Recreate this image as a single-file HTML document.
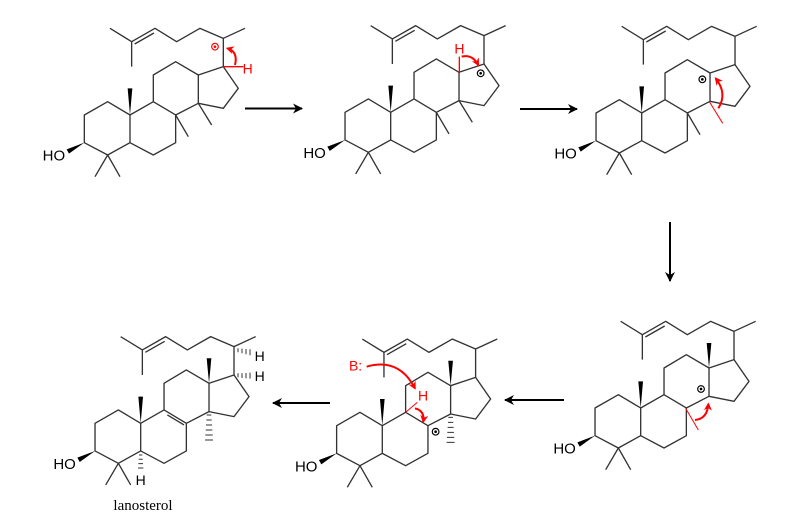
<!DOCTYPE html>
<html><head><meta charset="utf-8"><style>html,body{margin:0;padding:0;background:#fff}svg{display:block}</style></head>
<body>
<svg width="800" height="530" viewBox="0 0 800 530" xmlns="http://www.w3.org/2000/svg">
<defs>
<marker id="ah" viewBox="0 0 10 10" refX="9" refY="5" markerWidth="5" markerHeight="5" orient="auto" markerUnits="strokeWidth"><path d="M0,0 L10,5 L0,10 L3,5 Z" fill="#000"/></marker>
<marker id="rh" viewBox="0 0 10 10" refX="8" refY="5" markerWidth="4" markerHeight="4" orient="auto" markerUnits="strokeWidth"><path d="M0,0 L10,5 L0,10 L3,5 Z" fill="#f00"/></marker>
<g id="sk" fill="none" stroke="#333" stroke-width="4" stroke-linejoin="round">
<path d="M163,345 L233,305 L300,345 L300,428 L233,465 L163,428 Z"/>
<path d="M300,345 L370,305 L437,345 L437,428 L370,465 L300,428"/>
<path d="M370,305 L370,225 L437,185 L505,225 L505,310 L437,345"/>
<path d="M505,225 L580,200 L625,265 L580,325 L505,310"/>
<path d="M580,200 L580,115 L645,85 M580,115 L510,85 L440,125 L375,85 L305,125 L240,85 M305,125 L305,200 M372,99 L314,132"/>
<path d="M233,465 L195,530 M233,465 L270,530"/>
<polygon points="300,345 293,265 307,265" fill="#000" stroke="none"/>
<polygon points="163,428 110,448 117,461" fill="#000" stroke="none"/>
<text x="38" y="482" font-family="Liberation Sans, sans-serif" font-size="45" fill="#000" stroke="none">HO</text>
</g>
<g id="dot"><circle r="10" fill="none" stroke="#000" stroke-width="3.5"/><circle r="4" fill="#000"/></g>
<polygon id="w13" points="505,225 498,150 512,150" fill="#000"/>
<path id="h14" d="M498,320 h14 M497,335 h16 M496,350 h18 M495,365 h20 M494,380 h22 M493,395 h24" stroke="#333" stroke-width="3"/>
</defs>

<g transform="translate(30,0) scale(0.3333)">
<use href="#sk"/>
<path d="M437,345 L475,410 M505,310 L545,375" stroke="#333" stroke-width="4"/>
<path d="M580,200 L640,200" stroke="#f00" stroke-width="4"/>
<text x="638" y="220" font-family="Liberation Sans, sans-serif" font-size="42" fill="#f00">H</text>
<circle cx="555" cy="140" r="10" fill="none" stroke="#f00" stroke-width="3.5"/><circle cx="555" cy="140" r="4" fill="#f00"/>
<path d="M615,195 Q625,155 592,145" fill="none" stroke="#f00" stroke-width="6" marker-end="url(#rh)"/>
</g>

<g transform="translate(290.7,-2.7) scale(0.3333)">
<use href="#sk"/>
<path d="M437,345 L475,410 M505,310 L545,375" stroke="#333" stroke-width="4"/>
<path d="M506,178 L506,228" stroke="#f00" stroke-width="4"/>
<text x="491" y="168" font-family="Liberation Sans, sans-serif" font-size="42" fill="#f00">H</text>
<use href="#dot" x="570" y="228"/>
<path d="M513,178 Q545,170 563,203" fill="none" stroke="#f00" stroke-width="6" marker-end="url(#rh)"/>
</g>

<g transform="translate(541.7,-2) scale(0.3333)">
<use href="#sk"/>
<path d="M437,345 L475,410" stroke="#333" stroke-width="4"/>
<path d="M503,311 L543,376" stroke="#f00" stroke-width="3"/>
<use href="#dot" x="482" y="244"/>
<path d="M530,331 Q558,286 522,241" fill="none" stroke="#f00" stroke-width="6" marker-end="url(#rh)"/>
</g>

<g transform="translate(540.7,293) scale(0.3333)">
<use href="#sk"/>
<use href="#w13"/>
<path d="M435,346 L473,411" stroke="#f00" stroke-width="3"/>
<use href="#dot" x="481" y="288"/>
<path d="M463,381 Q500,378 503,333" fill="none" stroke="#f00" stroke-width="6" marker-end="url(#rh)"/>
</g>

<g transform="translate(282.3,310.7) scale(0.3333)">
<use href="#sk"/>
<use href="#w13"/>
<use href="#h14"/>
<path d="M370,305 L405,275" stroke="#f00" stroke-width="3"/>
<text x="407" y="270" font-family="Liberation Sans, sans-serif" font-size="42" fill="#f00">H</text>
<text x="200" y="180" font-family="Liberation Sans, sans-serif" font-size="42" fill="#f00">B:</text>
<path d="M253,168 Q350,140 398,233" fill="none" stroke="#f00" stroke-width="6" marker-end="url(#rh)"/>
<path d="M398,293 Q428,300 423,333" fill="none" stroke="#f00" stroke-width="6" marker-end="url(#rh)"/>
<use href="#dot" x="460" y="363"/>
</g>

<g transform="translate(40.7,308.3) scale(0.3333)">
<use href="#sk"/>
<use href="#w13"/>
<use href="#h14"/>
<path d="M380,320 L430,350" stroke="#333" stroke-width="4"/>
<path d="M295,440 h10 M294,453 h12 M293,466 h14 M292,479 h16" stroke="#333" stroke-width="3"/>
<text x="285" y="530" font-family="Liberation Sans, sans-serif" font-size="42" fill="#000">H</text>
<path d="M592,195 v12 M604,195 v14 M616,194 v16 M628,193 v18" stroke="#333" stroke-width="3"/>
<text x="642" y="218" font-family="Liberation Sans, sans-serif" font-size="42" fill="#000">H</text>
<path d="M592,120 v12 M604,121 v14 M616,122 v16 M628,123 v18" stroke="#333" stroke-width="3"/>
<text x="642" y="158" font-family="Liberation Sans, sans-serif" font-size="42" fill="#000">H</text>
</g>
<text x="143" y="510" text-anchor="middle" font-family="Liberation Serif, serif" font-size="15" fill="#000">lanosterol</text>

<g stroke="#000" stroke-width="2" fill="none">
<path d="M245,108.5 L302,108.5" marker-end="url(#ah)"/>
<path d="M520,109 L577,109" marker-end="url(#ah)"/>
<path d="M670,222 L670,281" marker-end="url(#ah)"/>
<path d="M564,400 L505,400" marker-end="url(#ah)"/>
<path d="M330,403 L273,403" marker-end="url(#ah)"/>
</g>
</svg>
</body></html>
